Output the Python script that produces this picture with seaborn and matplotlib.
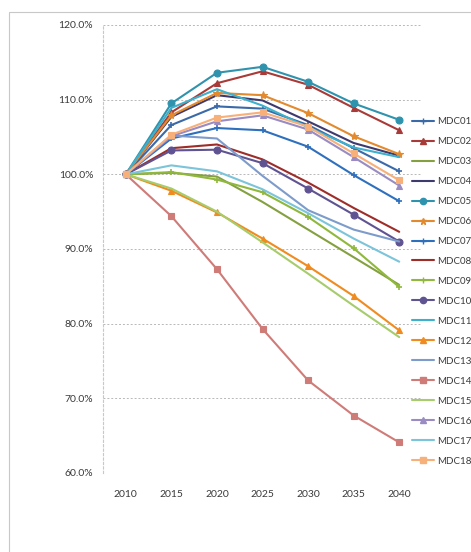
import matplotlib
matplotlib.use("Agg")
import matplotlib.pyplot as plt
from matplotlib.patches import Rectangle
from matplotlib.lines import Line2D
import seaborn as sns
import pandas as pd

years = [2010, 2015, 2020, 2025, 2030, 2035, 2040]

MDC01 = [100.0, 106.6, 109.1, 108.8, 106.6, 103.5, 100.4]
MDC02 = [100.0, 108.3, 112.2, 113.8, 112.0, 108.9, 105.9]
MDC03 = [100.0, 100.2, 99.7, 96.3, 92.6, 88.9, 85.2]
MDC04 = [100.0, 107.7, 110.6, 109.9, 107.1, 104.2, 102.5]
MDC05 = [100.0, 109.5, 113.6, 114.4, 112.4, 109.5, 107.3]
MDC06 = [100.0, 107.9, 110.9, 110.6, 108.2, 105.1, 102.7]
MDC07 = [100.0, 104.8, 106.2, 105.9, 103.7, 99.9, 96.4]
MDC08 = [100.0, 103.5, 104.0, 102.0, 98.9, 95.5, 92.3]
MDC09 = [100.0, 100.3, 99.3, 97.6, 94.3, 90.1, 84.9]
MDC10 = [100.0, 103.2, 103.3, 101.5, 98.1, 94.6, 91.0]
MDC11 = [100.0, 108.9, 111.4, 109.2, 106.3, 103.6, 102.3]
MDC12 = [100.0, 97.8, 94.9, 91.4, 87.7, 83.7, 79.1]
MDC13 = [100.0, 105.2, 104.8, 99.8, 95.2, 92.6, 91.0]
MDC14 = [100.0, 94.4, 87.3, 79.3, 72.4, 67.7, 64.1]
MDC15 = [100.0, 98.1, 95.0, 90.9, 86.7, 82.4, 78.2]
MDC16 = [100.0, 105.1, 107.1, 107.9, 106.0, 102.3, 98.5]
MDC17 = [100.0, 101.2, 100.4, 98.0, 94.8, 91.4, 88.3]
MDC18 = [100.0, 105.3, 107.6, 108.3, 106.4, 102.8, 99.2]

series_names = ["MDC01", "MDC02", "MDC03", "MDC04", "MDC05", "MDC06",
                "MDC07", "MDC08", "MDC09", "MDC10", "MDC11", "MDC12",
                "MDC13", "MDC14", "MDC15", "MDC16", "MDC17", "MDC18"]
series_values = [MDC01, MDC02, MDC03, MDC04, MDC05, MDC06,
                 MDC07, MDC08, MDC09, MDC10, MDC11, MDC12,
                 MDC13, MDC14, MDC15, MDC16, MDC17, MDC18]

y_ticks = [60, 70, 80, 90, 100, 110, 120]

colors = ["#3b6aa8", "#a83a38", "#84a040", "#3e3a6e", "#2f93ad", "#e3892e",
          "#2e70bd", "#9e2d29", "#8fb83c", "#5f5391", "#3cb0cc", "#f08b20",
          "#7d9bcb", "#cf7b78", "#a6cc6c", "#9a8bc2", "#7cc4da", "#f7b07a"]
markers = ["+", "^", None, None, "o", "*", "+", None, "+", "o", None, "^",
           None, "s", None, "^", None, "s"]

rows = []
for name, vals in zip(series_names, series_values):
    for yr, v in zip(years, vals):
        rows.append({"year": yr, "value": v, "series": name})
df = pd.DataFrame(rows)

sns.set_style("white")
plt.rcParams["font.family"] = ["Lato", "DejaVu Sans"]

fig = plt.figure(figsize=(4.71, 5.52), dpi=100)
ax = fig.add_axes([103 / 471, 1 - 473 / 552, 319 / 471, 448 / 552])

# outer chart frame
fig.patches.append(Rectangle((9 / 471, -0.05), 1.2, 1 - 12 / 552 + 0.05,
                             transform=fig.transFigure, fill=False,
                             edgecolor="#c8c8c8", linewidth=0.8, zorder=0))

handles = []
for name, c, m in zip(series_names, colors, markers):
    sub = df[df["series"] == name]
    kw = dict(linewidth=1.5)
    if m is not None:
        kw.update(marker=m, markersize=5 if m != "*" else 6,
                  markeredgewidth=1.2 if m == "+" else 0.8,
                  markeredgecolor=c)
    sns.lineplot(data=sub, x="year", y="value", color=c, ax=ax,
                 legend=False, **kw)
    handles.append(Line2D([0], [0], color=c, linewidth=1.5,
                          marker=(m if m else "None"), markersize=4.5,
                          markeredgewidth=1.0))

ax.set_xlim(2007.5, 2042.5)
ax.set_ylim(60, 120)
ax.set_xticks(years)
ax.set_xticklabels([str(y) for y in years])
ax.set_yticks(y_ticks)
ax.set_yticklabels([f"{v:.1f}%" for v in y_ticks])
ax.set_xlabel("")
ax.set_ylabel("")
ax.tick_params(axis="both", labelsize=7.5, colors="#3a3a3a", length=0)
ax.tick_params(axis="x", pad=12)
ax.tick_params(axis="y", pad=7)
ax.yaxis.grid(True, color="#b8b8b8", linestyle=(0, (2, 2)), linewidth=0.7)
ax.xaxis.grid(False)
for s in ["top", "right", "bottom"]:
    ax.spines[s].set_visible(False)
ax.spines["left"].set_color("#c8c8c8")
ax.spines["left"].set_linestyle((0, (2, 2)))
ax.spines["left"].set_linewidth(0.8)
ax.set_facecolor("none")

leg = fig.legend(handles, series_names, loc="upper left",
                 bbox_to_anchor=(412 / 471, 1 - 117 / 552),
                 frameon=False, fontsize=7, handlelength=2.3,
                 handletextpad=0.25, labelspacing=1.13, borderaxespad=0,
                 borderpad=0)
for t in leg.get_texts():
    t.set_color("#3a3a3a")

fig.savefig("out.png", dpi=100)
